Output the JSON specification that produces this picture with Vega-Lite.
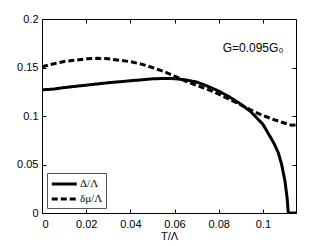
{
  "$schema": "https://vega.github.io/schema/vega-lite/v6.json",
  "width": 254,
  "height": 194,
  "autosize": "none",
  "padding": {"left": 42, "top": 19, "right": 31, "bottom": 33},
  "config": {
    "view": {"stroke": "#000", "strokeWidth": 1},
    "font": "Liberation Sans",
    "axis": {"grid": false, "domain": false, "tickColor": "#000", "labelColor": "#000", "titleColor": "#000", "labelFont": "Liberation Sans", "labelFontSize": 11, "titleFont": "Liberation Sans", "titleFontSize": 11, "titleFontWeight": "normal", "tickSize": -4}
  },
  "data": {"values": [
    {"s": "Δ/Λ", "x": 0, "y": 0.127},
    {"s": "Δ/Λ", "x": 0.005, "y": 0.1277},
    {"s": "Δ/Λ", "x": 0.01, "y": 0.1293},
    {"s": "Δ/Λ", "x": 0.02, "y": 0.1318},
    {"s": "Δ/Λ", "x": 0.03, "y": 0.1343},
    {"s": "Δ/Λ", "x": 0.04, "y": 0.1363},
    {"s": "Δ/Λ", "x": 0.05, "y": 0.1383},
    {"s": "Δ/Λ", "x": 0.055, "y": 0.1387},
    {"s": "Δ/Λ", "x": 0.06, "y": 0.1385},
    {"s": "Δ/Λ", "x": 0.065, "y": 0.1372},
    {"s": "Δ/Λ", "x": 0.07, "y": 0.135},
    {"s": "Δ/Λ", "x": 0.075, "y": 0.1307},
    {"s": "Δ/Λ", "x": 0.08, "y": 0.1257},
    {"s": "Δ/Λ", "x": 0.085, "y": 0.1195},
    {"s": "Δ/Λ", "x": 0.09, "y": 0.1122},
    {"s": "Δ/Λ", "x": 0.0945, "y": 0.1045},
    {"s": "Δ/Λ", "x": 0.1, "y": 0.0915},
    {"s": "Δ/Λ", "x": 0.105, "y": 0.072},
    {"s": "Δ/Λ", "x": 0.107, "y": 0.062},
    {"s": "Δ/Λ", "x": 0.1085, "y": 0.05},
    {"s": "Δ/Λ", "x": 0.11, "y": 0.033},
    {"s": "Δ/Λ", "x": 0.111, "y": 0.015},
    {"s": "Δ/Λ", "x": 0.1115, "y": 0},
    {"s": "Δ/Λ", "x": 0.115, "y": 0},
    {"s": "δμ/Λ", "x": 0, "y": 0.1508},
    {"s": "δμ/Λ", "x": 0.005, "y": 0.1537},
    {"s": "δμ/Λ", "x": 0.01, "y": 0.1562},
    {"s": "δμ/Λ", "x": 0.02, "y": 0.1589},
    {"s": "δμ/Λ", "x": 0.025, "y": 0.1595},
    {"s": "δμ/Λ", "x": 0.03, "y": 0.159},
    {"s": "δμ/Λ", "x": 0.04, "y": 0.156},
    {"s": "δμ/Λ", "x": 0.045, "y": 0.1535},
    {"s": "δμ/Λ", "x": 0.05, "y": 0.15},
    {"s": "δμ/Λ", "x": 0.055, "y": 0.146},
    {"s": "δμ/Λ", "x": 0.06, "y": 0.1412},
    {"s": "δμ/Λ", "x": 0.065, "y": 0.136},
    {"s": "δμ/Λ", "x": 0.07, "y": 0.1315},
    {"s": "δμ/Λ", "x": 0.075, "y": 0.1275},
    {"s": "δμ/Λ", "x": 0.08, "y": 0.1225},
    {"s": "δμ/Λ", "x": 0.085, "y": 0.117},
    {"s": "δμ/Λ", "x": 0.09, "y": 0.1115},
    {"s": "δμ/Λ", "x": 0.0945, "y": 0.1062},
    {"s": "δμ/Λ", "x": 0.1, "y": 0.1005},
    {"s": "δμ/Λ", "x": 0.105, "y": 0.0963},
    {"s": "δμ/Λ", "x": 0.11, "y": 0.0925},
    {"s": "δμ/Λ", "x": 0.113, "y": 0.0905},
    {"s": "δμ/Λ", "x": 0.115, "y": 0.0908}
  ]},
  "layer": [
    {
      "mark": {"type": "line", "strokeWidth": 3, "color": "#000", "clip": true},
      "encoding": {
        "x": {"field": "x", "type": "quantitative", "scale": {"domain": [0, 0.115], "nice": false, "zero": false}, "axis": {"title": "T/Λ", "values": [0, 0.02, 0.04, 0.06, 0.08, 0.1], "format": "~g", "labelPadding": 9, "titlePadding": 1}},
        "y": {"field": "y", "type": "quantitative", "scale": {"domain": [0, 0.2], "nice": false}, "axis": {"title": null, "values": [0, 0.05, 0.1, 0.15, 0.2], "format": "~g", "labelPadding": 8, "encode": {"labels": {"update": {"baseline": {"signal": "datum.value == 0 ? 'bottom' : 'middle'"}}}}}},
        "strokeDash": {"field": "s", "type": "nominal", "scale": {"domain": ["Δ/Λ", "δμ/Λ"], "range": [[1, 0], [6, 3]]},
          "legend": {"title": null, "orient": "bottom-left", "offset": 5, "strokeColor": "#555", "fillColor": "#fff", "padding": 3, "symbolType": "M-1,0L3,0", "symbolSize": 156, "symbolStrokeWidth": 3, "symbolStrokeColor": "#000", "labelFont": "Liberation Serif", "labelFontSize": 11, "labelColor": "#000", "rowPadding": 1, "labelOffset": 14}}
      }
    },
    {
      "data": {"values": [{"x": 0.0818, "y": 0.17, "t": "G=0.095G₀"}]},
      "mark": {"type": "text", "align": "left", "baseline": "middle", "font": "Liberation Sans", "fontSize": 12, "color": "#000"},
      "encoding": {
        "x": {"field": "x", "type": "quantitative", "axis": {"orient": "top", "title": null, "labels": false, "values": [0, 0.02, 0.04, 0.06, 0.08, 0.1]}},
        "y": {"field": "y", "type": "quantitative", "axis": {"orient": "right", "title": null, "labels": false, "values": [0, 0.05, 0.1, 0.15, 0.2]}},
        "text": {"field": "t"}
      }
    }
  ],
  "resolve": {"axis": {"x": "independent", "y": "independent"}}
}
